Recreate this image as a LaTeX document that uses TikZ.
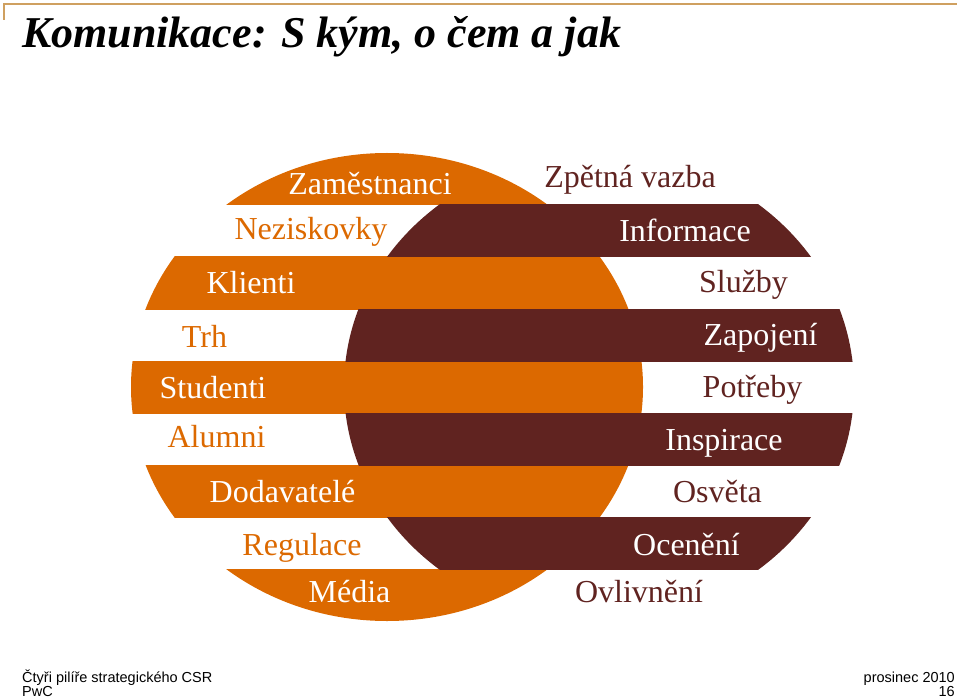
\documentclass[tikz,border=0pt]{standalone}
\usepackage{fontspec}
\setmainfont{Liberation Serif}
\setsansfont{Liberation Sans}
\usetikzlibrary{positioning}
\definecolor{pwcOrange}{HTML}{DC6900}
\definecolor{pwcRed}{HTML}{602320}
\definecolor{pwcTan}{HTML}{CFA060}
\tikzset{
  topline/.style  = {pwcTan, line width=1.6pt},
  lbl/.style      = {font=\fontsize{32}{36}\selectfont, inner sep=0pt, anchor=base},
  lblw/.style     = {lbl, white},
  lblo/.style     = {lbl, pwcOrange},
  lbld/.style     = {lbl, pwcRed},
  ttl/.style      = {font=\bfseries\itshape\fontsize{44}{48}\selectfont, inner sep=0pt, anchor=base west},
  foot/.style     = {font=\sffamily\fontsize{14.5}{16}\selectfont, inner sep=0pt},
}
\begin{document}
\begin{tikzpicture}[x=1pt, y=-1pt]
  \useasboundingbox (0,0) rectangle (960,700);

  % frame corner and title
  \draw[topline] (4,20) -- (4,4) -- (957,4);
  \node[ttl] (title) at (22,48) {Komunikace: S kým, o čem a jak};

  % orange stripes (left ellipse), dark stripes (right ellipse)
  \foreach \t in {153,257,361,465,569} {
    \begin{scope}
      \clip (0,\t) rectangle (960,\t+52);
      \fill[pwcOrange] (387,387) ellipse [x radius=256pt, y radius=234pt];
    \end{scope}}
  \foreach \t in {205,309,413,517} {
    \begin{scope}
      \clip (0,\t) rectangle (960,\t+52);
      \fill[pwcRed] (599,387) ellipse [x radius=255pt, y radius=234pt];
    \end{scope}}

  % S kym
  \node[lblw] (zam) at (370,195) {Zaměstnanci};
  \node[lblo] (nez) at (311,240) {Neziskovky};
  \node[lblw] (kli) at (251,294) {Klienti};
  \node[lblo] (trh) at (204.5,347) {Trh};
  \node[lblw] (stu) at (213,398) {Studenti};
  \node[lblo] (alu) at (216.5,447) {Alumni};
  \node[lblw] (dod) at (282.5,502) {Dodavatelé};
  \node[lblo] (reg) at (302,555) {Regulace};
  \node[lblw] (med) at (349.5,602) {Média};

  % o cem a jak
  \node[lbld] (zpe) at (630,188) {Zpětná vazba};
  \node[lblw] (inf) at (685,242) {Informace};
  \node[lbld] (slu) at (743.5,293) {Služby};
  \node[lblw] (zap) at (760.5,345) {Zapojení};
  \node[lbld] (pot) at (752.5,397) {Potřeby};
  \node[lblw] (ins) at (724,450) {Inspirace};
  \node[lbld] (osv) at (717.5,502) {Osvěta};
  \node[lblw] (oce) at (686.5,555) {Ocenění};
  \node[lbld] (ovl) at (639,602) {Ovlivnění};

  % footer
  \node[foot, anchor=base west] (ctyri) at (22,682) {Čtyři pilíře strategického CSR};
  \node[foot, anchor=base west] (pwc) at (22,696) {PwC};
  \node[foot, anchor=base east] (datum) at (955,682) {prosinec 2010};
  \node[foot, anchor=base east] (strana) at (955,696) {16};
\end{tikzpicture}
\end{document}
